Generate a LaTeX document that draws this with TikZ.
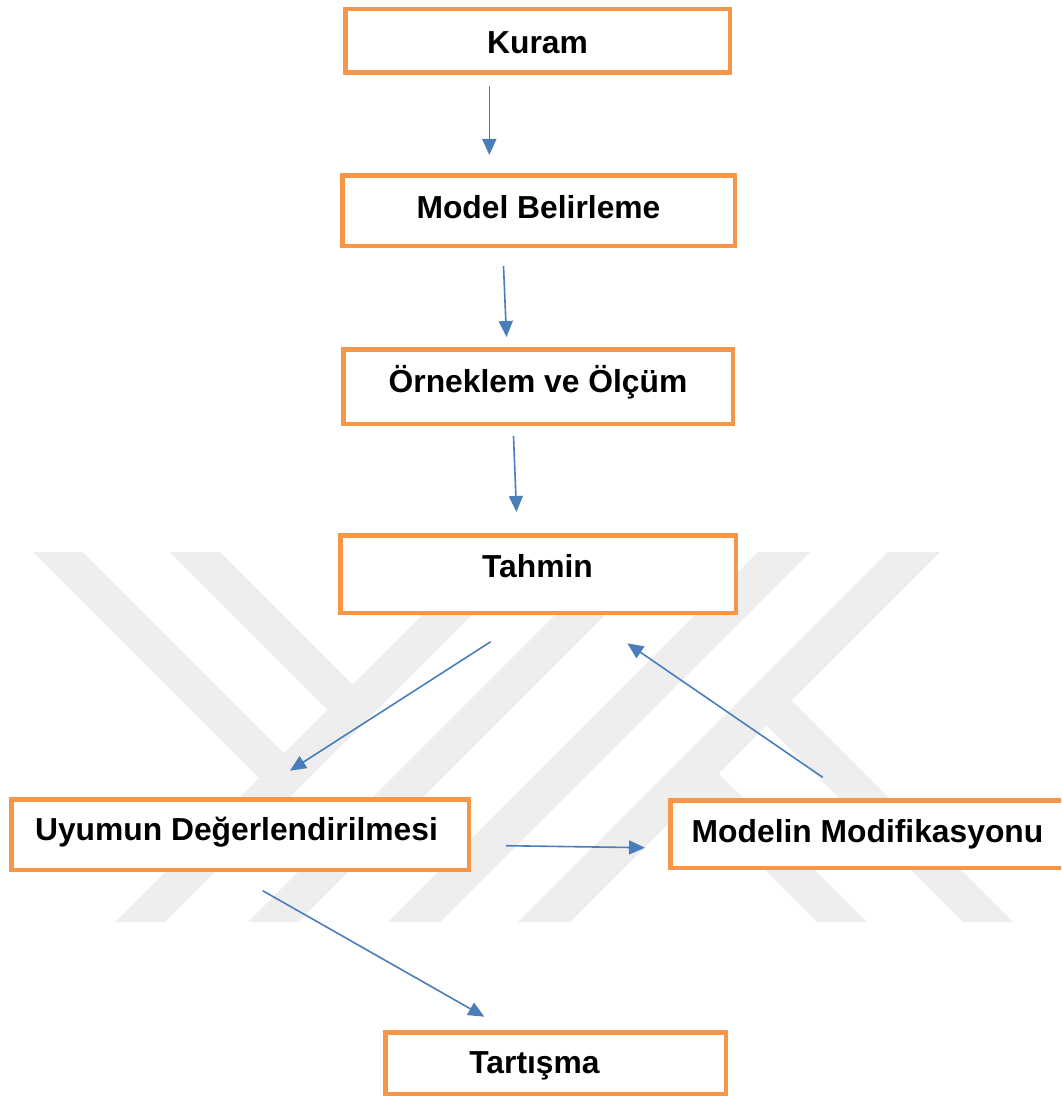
\documentclass[tikz,border=0pt]{standalone}
\usepackage{fontspec}
\setmainfont{Liberation Sans}
\usetikzlibrary{arrows.meta}

\definecolor{boxorange}{RGB}{247,150,70}
\definecolor{arrowblue}{RGB}{74,126,187}
\definecolor{wmgray}{RGB}{238,238,238}

\tikzset{
  stepbox/.style={draw=boxorange, line width=4.5pt, fill=white,
    rectangle, inner sep=0pt},
  boxtext/.style={inner sep=0pt, anchor=center,
    font=\fontsize{31.8pt}{36pt}\selectfont\bfseries,
    text height=22.7pt, text depth=0pt},
  conn/.style={draw=arrowblue, line width=1.6pt,
    -{Triangle[length=16pt,width=14pt]}},
  wm/.style={fill=wmgray, draw=none}
}

\begin{document}
\begin{tikzpicture}[x=1pt, y=-1pt]
\useasboundingbox (0,0) rectangle (1061,1097);
\clip (0,0) rectangle (1061,1097);
\fill[white] (0,0) rectangle (1061,1097);

% background logo: 45-degree stripes
\fill[wm] (485,552) -- (535,552) -- (165,922) -- (115,922) -- cycle;
\fill[wm] (618,552) -- (668,552) -- (298,922) -- (248,922) -- cycle;
\fill[wm] (758,552) -- (810,552) -- (440,922) -- (388,922) -- cycle;
\fill[wm] (888,552) -- (940,552) -- (570,922) -- (518,922) -- cycle;
\fill[wm] (33,552) -- (83,552) -- (288,757) -- (263,782) -- cycle;
\fill[wm] (170,552) -- (220,552) -- (356.5,688.5) -- (331.5,713.5) -- cycle;
\fill[wm] (817,922) -- (867,922) -- (714.5,769.5) -- (689.5,794.5) -- cycle;
\fill[wm] (963,922) -- (1013,922) -- (787.5,696.5) -- (762.5,721.5) -- cycle;

% boxes
\node[stepbox, minimum width=384.5pt, minimum height=63.5pt] (kuram) at (537.5,41) {};
\node[stepbox, minimum width=392.5pt, minimum height=70.5pt] (model) at (538.5,210.5) {};
\node[stepbox, minimum width=389.5pt, minimum height=74.5pt] (ornek) at (538,386.5) {};
\node[stepbox, minimum width=395.5pt, minimum height=77.5pt] (tahmin) at (538,574) {};
\node[stepbox, minimum width=457.5pt, minimum height=70.5pt] (uyum) at (240,834.5) {};
\node[stepbox, minimum width=394.5pt, minimum height=67.5pt] (modif) at (867.5,834) {};
\node[stepbox, minimum width=340.5pt, minimum height=61.5pt] (tartisma) at (555.5,1063) {};

% box labels
\node[boxtext] (kuram-t) at (537.5,42) {Kuram};
\node[boxtext] (model-t) at (538.5,207.5) {Model Belirleme};
\node[boxtext] (ornek-t) at (538,381) {Örneklem ve Ölçüm};
\node[boxtext] (tahmin-t) at (537.5,566) {Tahmin};
\node[boxtext] (uyum-t) at (236.5,829) {Uyumun Değerlendirilmesi};
\node[boxtext] (modif-t) at (867.5,831) {Modelin Modifikasyonu};
\node[boxtext] (tartisma-t) at (534.5,1062.5) {Tartışma};

% connector end points
\coordinate (a1s) at (489.3,86);   \coordinate (a1e) at (489.3,155);
\coordinate (a2s) at (503.5,266);  \coordinate (a2e) at (506.5,337);
\coordinate (a3s) at (513.5,436);  \coordinate (a3e) at (516.5,512);
\coordinate (a4s) at (490.7,641.7);\coordinate (a4e) at (290,770.7);
\coordinate (a5s) at (822.7,777.3);\coordinate (a5e) at (627.3,643.3);
\coordinate (a6s) at (506,845.7);  \coordinate (a6e) at (645,847.7);
\coordinate (a7s) at (262.7,890.7);\coordinate (a7e) at (484.3,1016.7);

% connectors
\draw[conn] (a1s) -- (a1e);
\draw[conn] (a2s) -- (a2e);
\draw[conn] (a3s) -- (a3e);
\draw[conn] (a4s) -- (a4e);
\draw[conn] (a5s) -- (a5e);
\draw[conn] (a6s) -- (a6e);
\draw[conn] (a7s) -- (a7e);
\end{tikzpicture}
\end{document}
